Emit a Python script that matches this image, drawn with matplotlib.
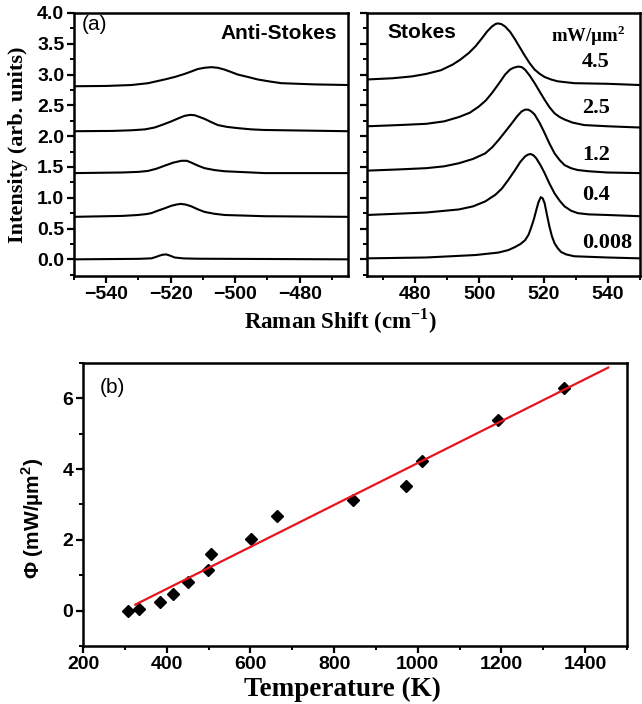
import matplotlib
matplotlib.use("Agg")
import matplotlib.pyplot as plt
from matplotlib.ticker import MultipleLocator, FormatStrFormatter

plt.rcParams['font.family'] = ['Liberation Sans', 'DejaVu Sans']
plt.rcParams['font.weight'] = 'bold'
plt.rcParams['mathtext.fontset'] = 'custom'
plt.rcParams['mathtext.rm'] = 'Liberation Serif:bold'
plt.rcParams['mathtext.sf'] = 'Liberation Sans:bold'
plt.rcParams['mathtext.bf'] = 'Liberation Serif:bold'

# ---- panel (a): anti-Stokes spectra (shift, intensity), offset already included
anti_008_x = [-550, -530, -526, -524.5, -523.5, -522.5, -521.4, -520.2, -518.8, -516, -511.6, -465]
anti_008_y = [0.0, 0.008, 0.016, 0.04, 0.06, 0.075, 0.08, 0.06, 0.03, 0.015, 0.01, 0.0]
anti_04_x = [-550, -535, -530.2, -527.5, -526, -524, -521.8, -519.8, -518.2, -516.9, -515.4, -513.6, -511.5, -509.5, -506.5, -503.3, -497, -490.9, -465]
anti_04_y = [0.69, 0.705, 0.72, 0.735, 0.75, 0.79, 0.83, 0.87, 0.89, 0.90, 0.89, 0.86, 0.81, 0.77, 0.74, 0.72, 0.71, 0.70, 0.69]
anti_12_x = [-550, -535, -530, -527.1, -524.5, -521.9, -519.2, -516.7, -515.0, -513.6, -511.5, -509.5, -506.5, -503.3, -497, -490.9, -465]
anti_12_y = [1.40, 1.41, 1.42, 1.435, 1.47, 1.52, 1.57, 1.60, 1.60, 1.57, 1.52, 1.48, 1.45, 1.43, 1.415, 1.40, 1.40]
anti_25_x = [-550, -538, -532.2, -528, -525, -522.3, -519.8, -517.6, -515.7, -514, -512.6, -511, -509.5, -507.5, -505.4, -502.5, -499.2, -495, -490.9, -465]
anti_25_y = [2.08, 2.085, 2.095, 2.11, 2.14, 2.19, 2.24, 2.29, 2.33, 2.345, 2.34, 2.31, 2.28, 2.23, 2.18, 2.15, 2.13, 2.11, 2.10, 2.08]
anti_45_x = [-550, -540, -532.2, -527, -521.9, -518.8, -515.7, -513.6, -511.6, -509.5, -507.4, -505.4, -503.3, -501.2, -499.2, -496, -493, -489, -485.7, -475.4, -465]
anti_45_y = [2.81, 2.815, 2.83, 2.86, 2.92, 2.96, 3.01, 3.05, 3.09, 3.11, 3.12, 3.11, 3.08, 3.04, 3.00, 2.96, 2.92, 2.885, 2.86, 2.84, 2.83]

# ---- panel (a): Stokes spectra
st_008_x = [465, 483.4, 498.8, 505.9, 509, 511.1, 512.8, 514.2, 515.3, 516.2, 517.0, 517.7, 518.4, 519.1, 519.7, 520.3, 521.0, 521.8, 522.6, 523.4, 524.4, 525.4, 527, 529.5, 539.8, 550]
st_008_y = [0.016, 0.03, 0.07, 0.11, 0.15, 0.20, 0.25, 0.31, 0.40, 0.53, 0.66, 0.80, 0.93, 1.01, 0.99, 0.91, 0.73, 0.53, 0.37, 0.26, 0.18, 0.12, 0.08, 0.05, 0.03, 0.016]
st_04_x = [465, 483.4, 493.6, 498, 501.8, 505, 507, 509, 511.1, 512.7, 514.2, 515.1, 515.9, 516.8, 517.7, 519, 520.3, 521.8, 523.4, 525, 526.5, 528.5, 530.6, 534, 539.8, 550]
st_04_y = [0.72, 0.76, 0.81, 0.86, 0.94, 1.05, 1.15, 1.29, 1.45, 1.58, 1.67, 1.70, 1.71, 1.69, 1.64, 1.53, 1.40, 1.23, 1.07, 0.95, 0.86, 0.79, 0.75, 0.73, 0.72, 0.70]
st_12_x = [465, 475, 483.4, 489, 493.6, 498, 501.8, 504, 506, 508, 510.1, 511.7, 513.1, 514.2, 515.2, 516.2, 517.2, 518.8, 520.3, 521.8, 523.4, 525, 526.5, 528.5, 530.6, 534, 539.8, 550]
st_12_y = [1.44, 1.46, 1.48, 1.51, 1.56, 1.63, 1.72, 1.82, 1.94, 2.07, 2.21, 2.32, 2.40, 2.43, 2.43, 2.40, 2.35, 2.21, 2.05, 1.88, 1.72, 1.61, 1.53, 1.48, 1.45, 1.43, 1.41, 1.40]
st_25_x = [465, 475, 483.4, 489, 493.6, 497, 499.8, 502, 503.9, 506, 508, 509.5, 510.6, 512.1, 513.2, 514.2, 515.7, 517.2, 518.8, 520.3, 521.8, 523.4, 525, 526.5, 529, 532.6, 540, 550]
st_25_y = [2.16, 2.18, 2.20, 2.24, 2.31, 2.38, 2.48, 2.58, 2.70, 2.85, 3.00, 3.08, 3.11, 3.13, 3.12, 3.08, 2.98, 2.86, 2.72, 2.59, 2.47, 2.37, 2.31, 2.27, 2.22, 2.18, 2.16, 2.14]
st_45_x = [465, 473, 479, 483.4, 488, 491.6, 494, 496.7, 498.8, 500.8, 502.4, 503.9, 505, 505.7, 506.8, 508, 509.6, 511.1, 512.7, 514.2, 515.7, 517.2, 518.8, 520.3, 522.3, 524.4, 529.5, 539.8, 550]
st_45_y = [2.92, 2.94, 2.97, 3.01, 3.07, 3.16, 3.24, 3.35, 3.46, 3.59, 3.70, 3.78, 3.82, 3.83, 3.82, 3.78, 3.69, 3.57, 3.43, 3.30, 3.18, 3.08, 3.01, 2.96, 2.92, 2.89, 2.86, 2.85, 2.83]

power_labels = ['4.5', '2.5', '1.2', '0.4', '0.008']
power_label_y = [0.814, 0.639, 0.46, 0.308, 0.125]

# ---- panel (b): power density vs temperature
temp_K = [308, 334, 383, 416, 452, 499, 506, 602, 664, 845, 972, 1010, 1191, 1350]
phi = [0.0, 0.05, 0.23, 0.48, 0.81, 1.15, 1.59, 2.02, 2.67, 3.12, 3.52, 4.23, 5.39, 6.28]
fit_T = [325, 1455]
fit_phi = [0.17, 6.87]

fig = plt.figure(figsize=(6.42, 7.04), dpi=100)
ax1 = fig.add_axes([0.1153, 0.608, 0.4268, 0.3736])
ax2 = fig.add_axes([0.5717, 0.608, 0.4252, 0.3736])
ax3 = fig.add_axes([0.1293, 0.0824, 0.8474, 0.402])

lw = 1.5
for xs, ys in [(anti_008_x, anti_008_y), (anti_04_x, anti_04_y), (anti_12_x, anti_12_y),
               (anti_25_x, anti_25_y), (anti_45_x, anti_45_y)]:
    ax1.plot(xs, ys, color='black', lw=lw)
for xs, ys in [(st_008_x, st_008_y), (st_04_x, st_04_y), (st_12_x, st_12_y),
               (st_25_x, st_25_y), (st_45_x, st_45_y)]:
    ax2.plot(xs, ys, color='black', lw=lw)

ax1.set_xlim(-550, -465)
ax2.set_xlim(465, 550)
for ax in (ax1, ax2):
    ax.set_ylim(-0.27, 4.0)
    ax.yaxis.set_major_locator(MultipleLocator(0.5))
    ax.yaxis.set_minor_locator(MultipleLocator(0.25))
    ax.xaxis.set_major_locator(MultipleLocator(20))
    ax.xaxis.set_minor_locator(MultipleLocator(10))
ax1.set_xticks([-540, -520, -500, -480])
ax2.set_xticks([480, 500, 520, 540])
ax1.yaxis.set_major_formatter(FormatStrFormatter('%.1f'))
ax2.tick_params(axis='y', labelleft=False)

for ax in (ax1, ax2, ax3):
    for s in ax.spines.values():
        s.set_linewidth(1.8)
    ax.tick_params(which='major', direction='out', length=5, width=1.6, labelsize=14, pad=2)
    ax.tick_params(which='minor', direction='out', length=3, width=1.4)
    ax.tick_params(top=False, right=False)
    for lab in ax.get_xticklabels() + ax.get_yticklabels():
        lab.set_fontweight('bold')

ax1.text(0.03, 0.958, '(a)', transform=ax1.transAxes, fontsize=15, fontweight='normal', va='center')
ax1.text(0.96, 0.922, 'Anti-Stokes', transform=ax1.transAxes, fontsize=15, ha='right', va='center')
ax2.text(0.073, 0.926, 'Stokes', transform=ax2.transAxes, fontsize=15, va='center')
ax2.text(0.675, 0.915, r'mW/µm$^{2}$', transform=ax2.transAxes, fontsize=13.5, va='center',
         family='Liberation Serif')
for lab, yy in zip(power_labels, power_label_y):
    ax2.text(0.788, yy, lab, transform=ax2.transAxes, fontsize=16, va='center',
             family='Liberation Serif')

fig.text(0.53, 0.543, r'Raman Shift (cm$^{-1}$)', ha='center', va='center', fontsize=16.5,
         family='Liberation Serif')
fig.text(0.028, 0.794, 'Intensity (arb. units)', ha='center', va='center', rotation=90,
         fontsize=16, family='Liberation Serif')

# panel (b)
ax3.plot(temp_K, phi, 'D', color='black', markersize=6.5)
ax3.plot(fit_T, fit_phi, color='#e8141c', lw=1.6)
ax3.set_xlim(200, 1500)
ax3.set_ylim(-1, 7)
ax3.xaxis.set_major_locator(MultipleLocator(200))
ax3.xaxis.set_minor_locator(MultipleLocator(100))
ax3.yaxis.set_major_locator(MultipleLocator(2))
ax3.yaxis.set_minor_locator(MultipleLocator(1))
ax3.text(0.031, 0.915, '(b)', transform=ax3.transAxes, fontsize=15, fontweight='normal', va='center')

fig.text(0.534, 0.02, 'Temperature (K)', ha='center', va='center', fontsize=19.5,
         family='Liberation Serif')
fig.text(0.051, 0.264, r'Φ (mW/µm$^{\mathsf{2}}$)', ha='center', va='center', rotation=90,
         fontsize=15)

fig.savefig('out.png', dpi=100)
